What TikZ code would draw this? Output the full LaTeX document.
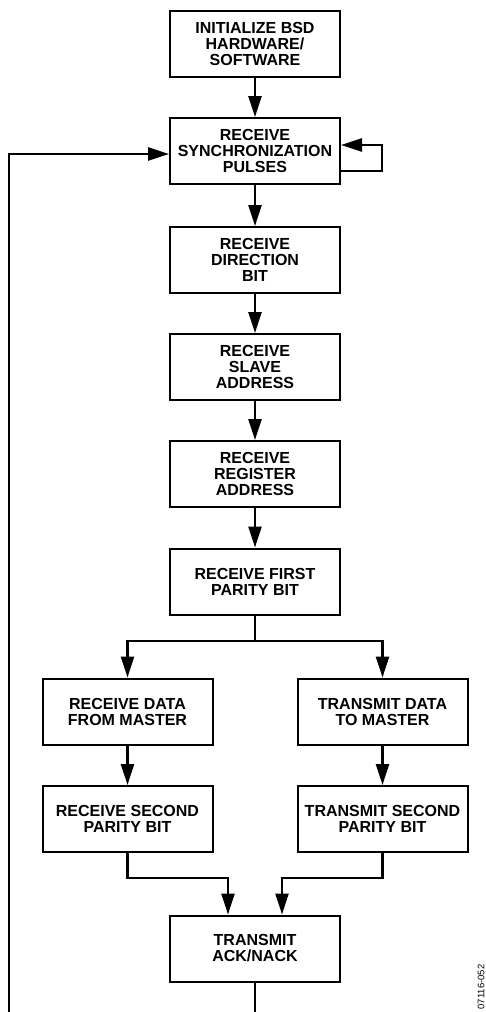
\documentclass[tikz,border=0pt]{standalone}
\usepackage{fontspec}
\setmainfont{Liberation Sans}
\usetikzlibrary{arrows.meta,calc}
\begin{document}
\begin{tikzpicture}[x=1pt,y=-1pt,
  box/.style={draw,line width=2pt,minimum width=170pt,minimum height=66pt,align=center,inner sep=0pt,
    font=\fontsize{16}{16}\selectfont\bfseries},
  line/.style={line width=2.4pt,line join=miter},
  arr/.style={line, -{Triangle[length=21pt,width=13pt]}}]
\useasboundingbox (0,0) rectangle (486,1012);
\node[box] (init) at (255,43.5) {INITIALIZE BSD\\HARDWARE/\\SOFTWARE};
\node[box] (sync) at (255,151) {RECEIVE\\SYNCHRONIZATION\\PULSES};
\node[box] (dir) at (255,260) {RECEIVE\\DIRECTION\\BIT};
\node[box] (slave) at (255,367) {RECEIVE\\SLAVE\\ADDRESS};
\node[box] (reg) at (255,474) {RECEIVE\\REGISTER\\ADDRESS};
\node[box] (par1) at (255,581.5) {RECEIVE FIRST\\PARITY BIT};
\node[box] (rd) at (127.5,711.5) {RECEIVE DATA\\FROM MASTER};
\node[box] (td) at (382.5,711.5) {TRANSMIT DATA\\TO MASTER};
\node[box] (rs2) at (127.5,819) {RECEIVE SECOND\\PARITY BIT};
\node[box] (ts2) at (382.5,819) {TRANSMIT SECOND\\PARITY BIT};
\node[box] (ack) at (255,948.5) {TRANSMIT\\ACK/NACK};
\node[rotate=90,inner sep=0pt,font=\fontsize{9.5}{10}\selectfont] (lbl) at (481,987) {07116-052};

\draw[arr] (init) -- (sync);
\draw[arr] (sync) -- (dir);
\draw[arr] (dir) -- (slave);
\draw[arr] (slave) -- (reg);
\draw[arr] (reg) -- (par1);
\coordinate (br) at (255,641);
\draw[line] (par1.south) -- (br);
\draw[arr] (br) -| (rd.north);
\draw[arr] (br) -| (td.north);
\draw[arr] (rd) -- (rs2);
\draw[arr] (td) -- (ts2);
\coordinate (m1) at (228,878);
\coordinate (m2) at (282,878);
\draw[arr] (rs2.south) |- (m1) -- (m1 |- ack.north);
\draw[arr] (ts2.south) |- (m2) -- (m2 |- ack.north);
\coordinate (ackB) at (255,1013);
\coordinate (fbB) at (9,1013);
\draw[line] (ack.south) -- (ackB);
\draw[arr] (fbB) |- ($(sync.west)+(0,3)$);
\draw[arr] ($(sync.east)+(0,20)$) -- ++(41,0) |- ($(sync.east)+(0,-6)$);
\end{tikzpicture}
\end{document}
